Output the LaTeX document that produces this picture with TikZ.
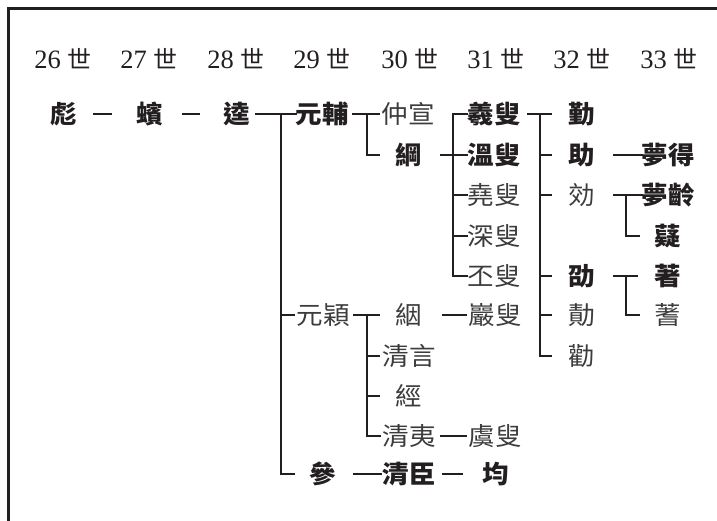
\documentclass[tikz,border=0pt]{standalone}
\usepackage{fontspec}
\setmainfont{Liberation Serif}
\newfontfamily\cjk{Noto Sans CJK TC}
\newfontfamily\cjkw[FakeStretch=1.06]{Noto Sans CJK TC}
\definecolor{ink}{HTML}{231F20}
\definecolor{soft}{HTML}{3C3C3C}
\tikzset{
  bn/.style={font=\cjkw\bfseries\fontsize{25}{27}\selectfont, inner sep=0pt, text height=20.7pt, text depth=1.8pt, text=ink},
  rn/.style={font=\cjkw\fontsize{25}{27}\selectfont, inner sep=0pt, text height=20.7pt, text depth=1.8pt, text=soft},
  hd/.style={font=\fontsize{26.5}{28}\selectfont, inner sep=0pt, anchor=base, text=ink},
  ln/.style={line width=2.4pt, draw=ink},
  frm/.style={line width=3pt, draw=ink}
}
\begin{document}
\begin{tikzpicture}[x=1pt, y=-1pt]
\useasboundingbox (0,0) rectangle (717,520);
\draw[frm] (720,8) -- (8,8) -- (8,523);

% headers
\node[hd] (h26) at (63,68) {26 {\cjk\fontsize{24}{26}\selectfont 世}};
\node[hd] (h27) at (149,68) {27 {\cjk\fontsize{24}{26}\selectfont 世}};
\node[hd] (h28) at (236,68) {28 {\cjk\fontsize{24}{26}\selectfont 世}};
\node[hd] (h29) at (322,68) {29 {\cjk\fontsize{24}{26}\selectfont 世}};
\node[hd] (h30) at (410,68) {30 {\cjk\fontsize{24}{26}\selectfont 世}};
\node[hd] (h31) at (496,68) {31 {\cjk\fontsize{24}{26}\selectfont 世}};
\node[hd] (h32) at (582,68) {32 {\cjk\fontsize{24}{26}\selectfont 世}};
\node[hd] (h33) at (669,68) {33 {\cjk\fontsize{24}{26}\selectfont 世}};

% names
\node[bn] (biao) at (64,114) {彪};
\node[bn] (bin) at (150,114) {蠙};
\node[bn] (kui) at (237,114) {逵};
\node[bn] (yuanfu) at (322,114) {元輔};
\node[rn] (zhongxuan) at (408,114) {仲宣};
\node[bn] (gang) at (409,155) {綱};
\node[bn] (xisou) at (494,114) {羲叟};
\node[bn] (wensou) at (494,155) {溫叟};
\node[rn] (yaosou) at (494,195) {堯叟};
\node[rn] (shensou) at (494,236) {深叟};
\node[rn] (pisou) at (494,276) {丕叟};
\node[bn] (qin) at (582,114) {勤};
\node[bn] (zhu) at (582,155) {助};
\node[rn] (xiao) at (582,195) {効};
\node[bn] (shao) at (582,276) {劭};
\node[rn] (ji) at (582,315) {勣};
\node[rn] (quan) at (582,356) {勸};
\node[bn] (mengde) at (668,155) {夢得};
\node[bn] (mengling) at (668,195) {夢齡};
\node[bn] (ni) at (668,236) {薿};
\node[bn] (zhuo) at (668,276) {著};
\node[rn] (shi) at (668,315) {蓍};
\node[rn] (yuanying) at (323,315) {元穎};
\node[rn] (yin) at (409,315) {絪};
\node[rn] (yansou) at (495,315) {巖叟};
\node[rn] (qingyan) at (409,356) {清言};
\node[rn] (jing) at (409,396) {經};
\node[rn] (qingyi) at (409,436) {清夷};
\node[rn] (yusou) at (495,436) {虞叟};
\node[bn] (can) at (323,474) {參};
\node[bn] (qingchen) at (409,474) {清臣};
\node[bn] (jun) at (496,474) {均};

% fork points
\coordinate (v1) at (281,114);
\coordinate (v2) at (367,114);
\coordinate (v3) at (453,114);
\coordinate (v4) at (540,114);
\coordinate (v5) at (626,195);
\coordinate (v6) at (626,276);
\coordinate (v7) at (367,315);

% connectors
\draw[ln] ([xshift=29]biao.center) -- ([xshift=-38]bin.center);
\draw[ln] ([xshift=32]bin.center) -- ([xshift=-37]kui.center);
\draw[ln] ([xshift=18]kui.center) -- ([xshift=-25]yuanfu.center);
\draw[ln] (v1) |- ([xshift=-28]can.center);
\draw[ln] (v1 |- yuanying) -- ([xshift=-28]yuanying.center);

\draw[ln] ([xshift=30]yuanfu.center) -- ([xshift=-28]zhongxuan.center);
\draw[ln] (v2) |- ([xshift=-29]gang.center);

\draw[ln] ([xshift=31]gang.center) -- ([xshift=-26]wensou.center);
\draw[ln] ([xshift=-26]xisou.center) -- (v3) |- ([xshift=-26]pisou.center);
\draw[ln] (v3 |- yaosou) -- ([xshift=-26]yaosou.center);
\draw[ln] (v3 |- shensou) -- ([xshift=-26]shensou.center);

\draw[ln] ([xshift=33]xisou.center) -- ([xshift=-30]qin.center);
\draw[ln] (v4) |- ([xshift=-30]quan.center);
\draw[ln] (v4 |- zhu) -- ([xshift=-30]zhu.center);
\draw[ln] (v4 |- xiao) -- ([xshift=-30]xiao.center);
\draw[ln] (v4 |- shao) -- ([xshift=-30]shao.center);
\draw[ln] (v4 |- ji) -- ([xshift=-30]ji.center);

\draw[ln] ([xshift=31]zhu.center) -- ([xshift=-25]mengde.center);
\draw[ln] ([xshift=31]xiao.center) -- ([xshift=-25]mengling.center);
\draw[ln] (v5) |- ([xshift=-28]ni.center);
\draw[ln] ([xshift=31]shao.center) -- ([xshift=-30]zhuo.center);
\draw[ln] (v6) |- ([xshift=-28]shi.center);

\draw[ln] ([xshift=30]yuanying.center) -- ([xshift=-29]yin.center);
\draw[ln] (v7) |- ([xshift=-28]qingyi.center);
\draw[ln] (v7 |- qingyan) -- ([xshift=-29]qingyan.center);
\draw[ln] (v7 |- jing) -- ([xshift=-29]jing.center);
\draw[ln] ([xshift=33]yin.center) -- ([xshift=-28]yansou.center);
\draw[ln] ([xshift=31]qingyi.center) -- ([xshift=-28]yusou.center);
\draw[ln] ([xshift=30]can.center) -- ([xshift=-27]qingchen.center);
\draw[ln] ([xshift=33]qingchen.center) -- ([xshift=-33]jun.center);
\end{tikzpicture}
\end{document}
